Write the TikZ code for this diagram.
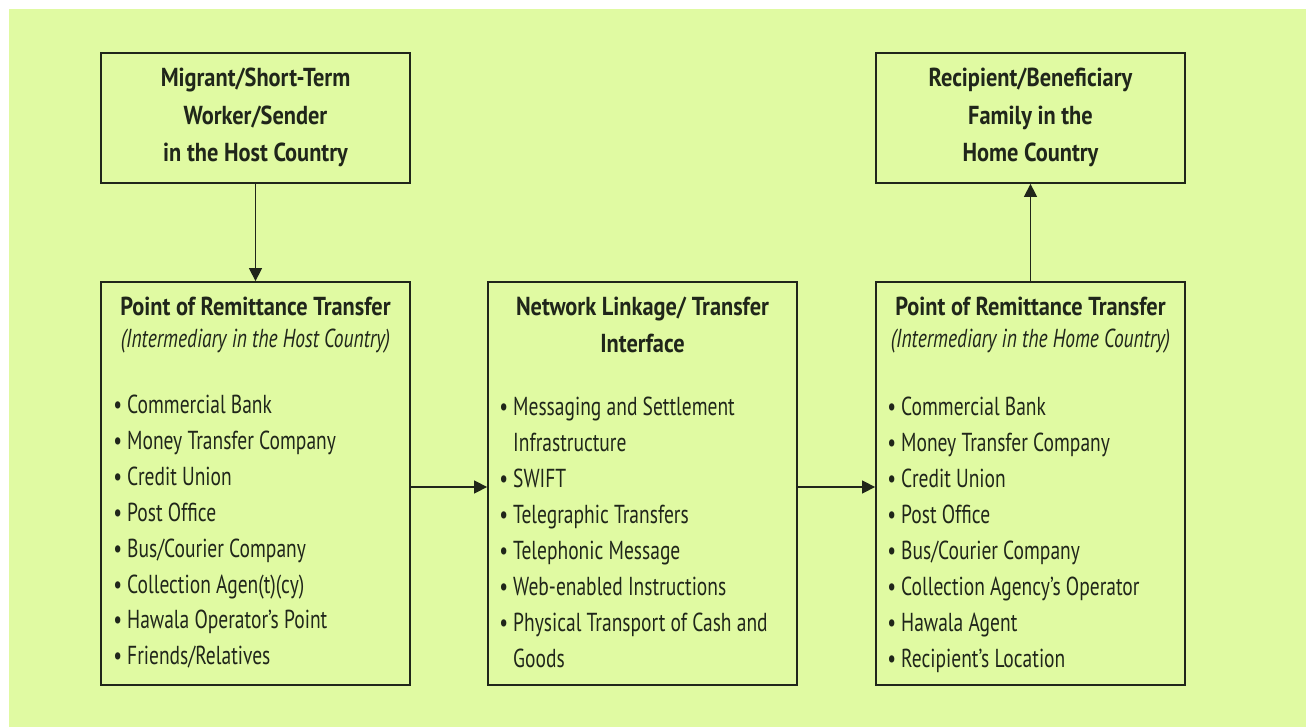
\documentclass[tikz,border=0pt]{standalone}
\usepackage{fontspec}
\setmainfont{PT Sans}[FakeStretch=0.75,BoldFeatures={FakeStretch=0.86}]
\usetikzlibrary{arrows.meta}
\definecolor{bg}{HTML}{E0FAA2}
\definecolor{ink}{HTML}{20261A}
\begin{document}
\begin{tikzpicture}[x=1pt,y=-1pt,
  box/.style={draw=ink,line width=1.8pt,inner sep=0pt},
  ttl/.style={anchor=base,inner sep=0pt,font=\fontsize{26}{30}\selectfont\bfseries,text=ink},
  sub/.style={anchor=base,inner sep=0pt,font=\fontsize{26}{30}\selectfont\itshape,text=ink},
  itm/.style={anchor=base west,inner sep=0pt,font=\fontsize{26}{30}\selectfont,text=ink},
  arr/.style={draw=ink,line width=1.4pt,-{Triangle[length=13pt,width=13pt]}}]
\useasboundingbox (0,0) rectangle (1306,727);
\fill[bg] (9,9) rectangle (1306,727);
% boxes
\node[box,minimum width=309pt,minimum height=130pt] (sender) at (255.5,118) {};
\node[box,minimum width=309pt,minimum height=403pt] (host) at (255.5,483.5) {};
\node[box,minimum width=309pt,minimum height=403pt] (net) at (642.5,483.5) {};
\node[box,minimum width=309pt,minimum height=403pt] (home) at (1030.5,483.5) {};
\node[box,minimum width=309pt,minimum height=130pt] (recip) at (1030.5,118) {};
% box texts
\node[ttl] (s1) at (255.5,87) {Migrant/Short-Term};
\node[ttl] (s2) at (255.5,124.5) {Worker/Sender};
\node[ttl] (s3) at (255.5,162) {in the Host Country};
\node[ttl] (r1) at (1030.5,87) {Recipient/Beneficiary};
\node[ttl] (r2) at (1030.5,124.5) {Family in the};
\node[ttl] (r3) at (1030.5,162) {Home Country};
\node[ttl] (h1) at (255.5,315) {Point of Remittance Transfer};
\node[sub] (h2) at (255.5,347) {(Intermediary in the Host Country)};
\node[ttl] (n1) at (642.5,315) {Network Linkage/ Transfer};
\node[ttl] (n2) at (642.5,352) {Interface};
\node[ttl] (m1) at (1030.5,315) {Point of Remittance Transfer};
\node[sub] (m2) at (1030.5,347) {(Intermediary in the Home Country)};
\newcommand{\bul}{\llap{\textbullet\hspace{5pt}}}
% host list
\node[itm] (ha) at (127,413) {\bul Commercial Bank};
\node[itm] (hb) at (127,449) {\bul Money Transfer Company};
\node[itm] (hc) at (127,485) {\bul Credit Union};
\node[itm] (hd) at (127,521) {\bul Post Office};
\node[itm] (he) at (127,557) {\bul Bus/Courier Company};
\node[itm] (hf) at (127,593) {\bul Collection Agen(t)(cy)};
\node[itm] (hg) at (127,628.5) {\bul Hawala Operator’s Point};
\node[itm] (hh) at (127,664) {\bul Friends/Relatives};
% network list
\node[itm] (na) at (513,415) {\bul Messaging and Settlement};
\node[itm] (nb) at (513,451) {Infrastructure};
\node[itm] (nc) at (513,487) {\bul SWIFT};
\node[itm] (nd) at (513,523) {\bul Telegraphic Transfers};
\node[itm] (ne) at (513,559) {\bul Telephonic Message};
\node[itm] (nf) at (513,595) {\bul Web-enabled Instructions};
\node[itm] (ng) at (513,631) {\bul Physical Transport of Cash and};
\node[itm] (nh) at (513,667) {Goods};
% home list
\node[itm] (ma) at (901,415) {\bul Commercial Bank};
\node[itm] (mb) at (901,451) {\bul Money Transfer Company};
\node[itm] (mc) at (901,487) {\bul Credit Union};
\node[itm] (md) at (901,523) {\bul Post Office};
\node[itm] (me) at (901,559) {\bul Bus/Courier Company};
\node[itm] (mf) at (901,595) {\bul Collection Agency’s Operator};
\node[itm] (mg) at (901,631) {\bul Hawala Agent};
\node[itm] (mh) at (901,667) {\bul Recipient’s Location};
% arrows
\draw[arr] (sender.south) -- (host.north);
\draw[arr] (host.east |- 0,487) -- (net.west |- 0,487);
\draw[arr] (net.east |- 0,487) -- (home.west |- 0,487);
\draw[arr] (home.north) -- (recip.south);
\end{tikzpicture}
\end{document}
